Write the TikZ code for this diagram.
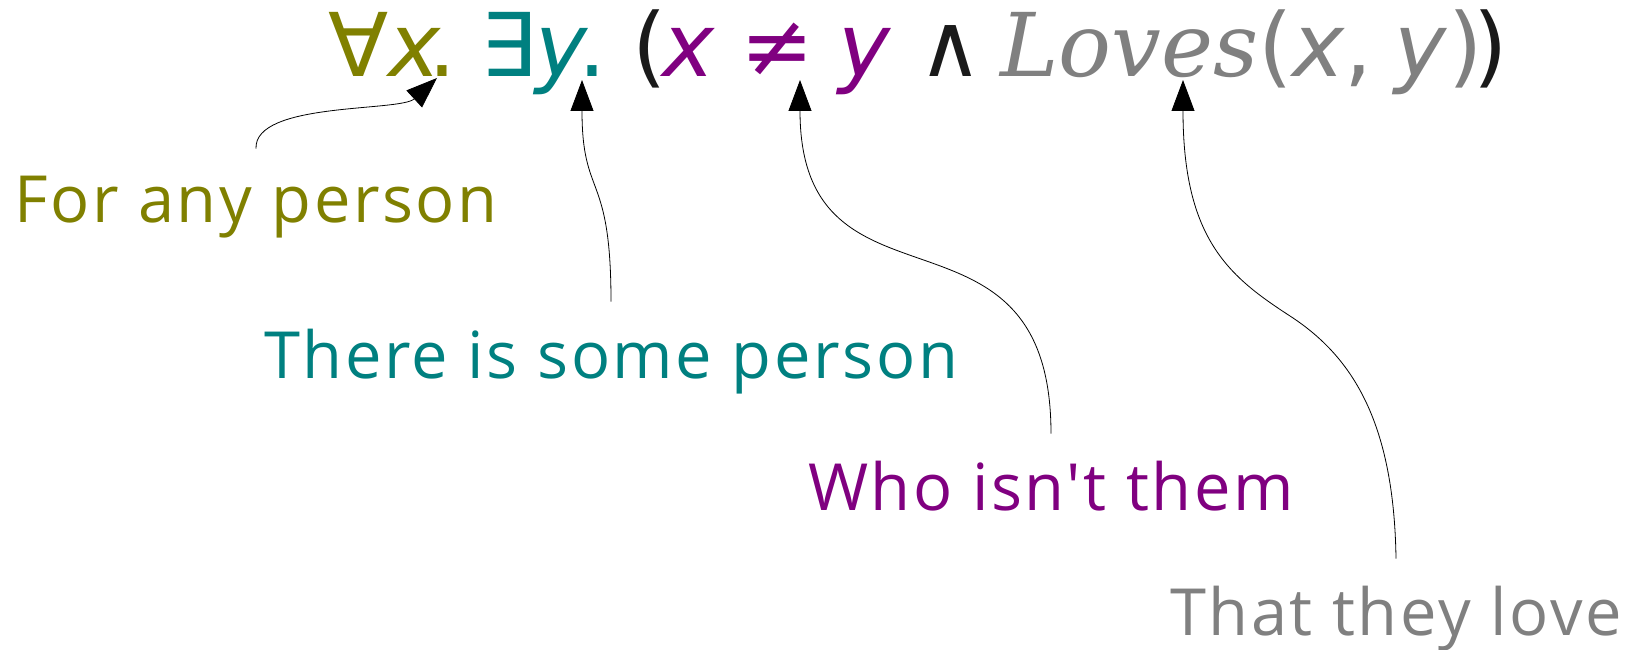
\documentclass[tikz,border=0pt]{standalone}
\usepackage{fontspec}
\usepackage{xcolor}
\usepackage{tikz}
\usetikzlibrary{arrows.meta,calc}

\newfontfamily\frmsans{DejaVu Sans}
\newfontfamily\frmserif{DejaVu Serif}
\newfontfamily\handfont[LetterSpace=4]{Open Sans}

\definecolor{qolive}{HTML}{808000}
\definecolor{qteal}{HTML}{008080}
\definecolor{qplum}{HTML}{800080}
\definecolor{qgrey}{HTML}{808080}
\definecolor{qink}{HTML}{1A1A1A}

\begin{document}
\begin{tikzpicture}[x=1pt, y=-1pt,
  term/.style={inner sep=0pt, anchor=base west, font=\frmsans\fontsize{88}{100}\selectfont},
  gloss/.style={inner sep=0pt, outer ysep=27pt, anchor=base, font=\handfont\fontsize{65}{70}\selectfont},
  ann/.style={-{Triangle[length=31pt, width=23pt]}, line width=0.8pt, draw=black}
]
\useasboundingbox (0,0) rectangle (1638,650);

% the formula, one term at a time
\node[term, text=qolive] (fa) at (328,77) {∀\textit{x}};
\node[term, text=qolive] (dx) at (428,77) {.};
\node[term, text=qteal] (ey) at (480,77) {∃\textit{y}};
\node[term, text=qteal] (dy) at (578,77) {.};
\node[term, text=qink] (lp) at (632,77) {(};
\node[term, text=qplum] (xv) at (662,77) {\textit{x}};
\node[term, text=qplum] (neq) at (740,77) {≠};
\node[term, text=qplum] (yv) at (838,77) {\textit{y}};
\node[term, text=qink] (an) at (918,77) {∧};
\node[term, text=qgrey] (lv) at (1000,77) {{\frmserif\itshape Loves}(\textit{x},\kern22pt\textit{y})};
\node[term, text=qink] (rp) at (1473,77) {)};

% where the arrows land
\coordinate (tx) at ($(dx.base west)+(9,1)$);
\coordinate (ty) at ($(dy.base west)+(4,3)$);
\coordinate (tne) at ($(neq.base west)+(60,3)$);
\coordinate (tlv) at ($(lv.base west)+(183,3)$);

% readings
\node[gloss, text=qolive] (forany) at (256,222) {For any person};
\node[gloss, text=qteal] (someone) at (611,378) {There is some person};
\node[gloss, text=qplum] (notthem) at (1051,510) {Who isn't them};
\node[gloss, text=qgrey] (theylove) at (1396,635) {That they love};

\coordinate (bend) at (1290,316);

\draw[ann] (forany.north) .. controls +(-2,-47) and +(-37,34) .. (tx);
\draw[ann] (someone.north) .. controls +(0,-132) and +(0,120) .. (ty);
\draw[ann] (notthem.north) .. controls +(0,-250) and +(0,250) .. (tne);
\draw[ann] (theylove.north) .. controls +(-2,-140) and +(60,39) .. (bend)
  .. controls +(-60,-39) and +(0,160) .. (tlv);
\end{tikzpicture}
\end{document}
